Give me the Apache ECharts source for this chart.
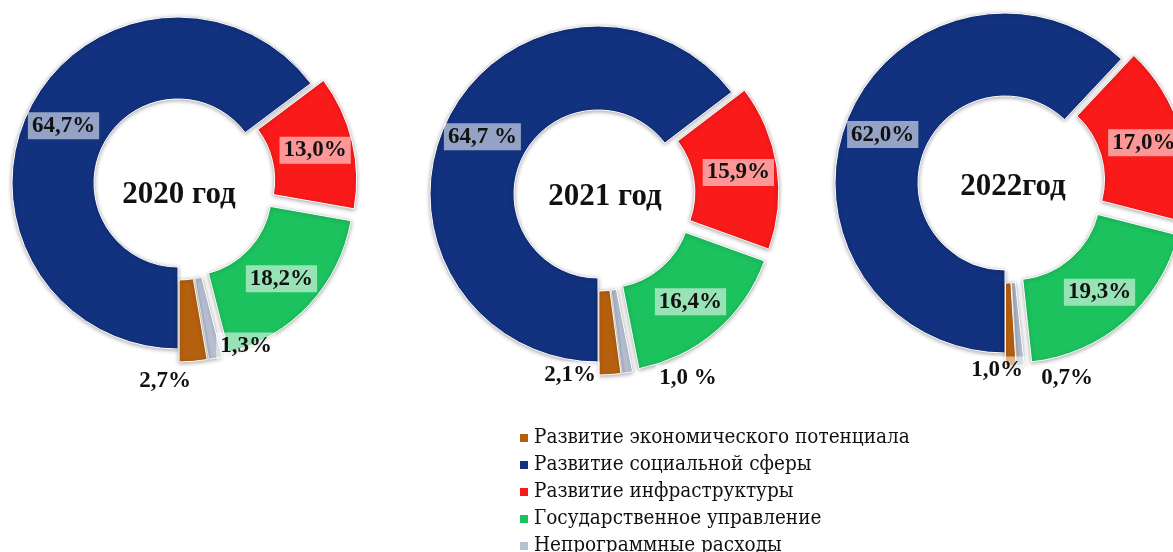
<!DOCTYPE html>
<html>
<head>
<meta charset="utf-8">
<script src="https://cdn.jsdelivr.net/npm/echarts@6/dist/echarts.min.js"></script>
<style>
  html, body { margin: 0; padding: 0; background: #ffffff; }
  #chart { width: 1173px; height: 552px; }
</style>
</head>
<body>
<div id="chart"></div>
<script>
// ---- data ----
const categories = [
  'Развитие экономического потенциала',
  'Развитие социальной сферы',
  'Развитие инфраструктуры',
  'Государственное управление',
  'Непрограммные расходы'
];
const years = ['2020 год', '2021 год', '2022год'];
const values2020 = [2.7, 64.7, 13.0, 18.2, 1.3];
const values2021 = [2.1, 64.7, 15.9, 16.4, 1.0];
const values2022 = [1.0, 62.0, 17.0, 19.3, 0.7];
const labels2020 = ['2,7%', '64,7%', '13,0%', '18,2%', '1,3%'];
const labels2021 = ['2,1%', '64,7 %', '15,9%', '16,4%', '1,0 %'];
const labels2022 = ['1,0%', '62,0%', '17,0%', '19,3%', '0,7%'];

// ---- styling / layout ----
const SERIF = '"Liberation Serif", "Times New Roman", serif';
const LEGEND_FONT = '"DejaVu Serif Condensed", "DejaVu Serif", serif';
const colors = ['#b5600f', '#12317f', '#fa1a1a', '#1cc25e', '#b7c0d3'];
const drawOrder = [1, 2, 3, 4, 0];          // clockwise from 6 o'clock
const exploded = [true, false, true, true, true];
const pies = [
  { values: values2020, labels: labels2020, center: [178, 183], radius: [84, 166],
    titleShift: [-4, 7],
    smallLabelPos: { 0: [-13, 198], 4: [68, 163] } },
  { values: values2021, labels: labels2021, center: [598, 194], radius: [84, 168],
    titleShift: [2, -2],
    smallLabelPos: { 0: [-28, 181], 4: [90, 184] } },
  { values: values2022, labels: labels2022, center: [1005, 183], radius: [87, 170],
    titleShift: [3, -1],
    smallLabelPos: { 0: [-8, 187], 4: [62, 195] } }
];
const LABEL_BG = 'rgba(255,255,255,0.55)';

const series = pies.map(function (p, pi) {
  const items = drawOrder.map(function (i) {
    const small = p.values[i] < 5;
    return {
      name: categories[i],
      value: p.values[i],
      selected: exploded[i],
      itemStyle: { color: colors[i] },
      label: { show: !small, formatter: p.labels[i] }
    };
  });
  return {
    type: 'pie',
    name: years[pi],
    center: p.center,
    radius: p.radius,
    startAngle: 270,
    clockwise: true,
    avoidLabelOverlap: false,
    selectedMode: 'multiple',
    selectedOffset: 13,
    silent: true,
    label: {
      show: true,
      position: 'inside',
      fontFamily: SERIF,
      fontWeight: 'bold',
      fontSize: 23,
      color: '#111',
      backgroundColor: LABEL_BG,
      padding: [3, 4, 1, 4]
    },
    labelLine: { show: false },
    itemStyle: {
      borderColor: '#ffffff',
      borderWidth: 1,
      shadowBlur: 4,
      shadowOffsetY: 1,
      shadowColor: 'rgba(0,0,0,0.35)'
    },
    select: { itemStyle: { borderColor: '#ffffff', borderWidth: 1 } },
    emphasis: { disabled: true },
    data: items
  };
});

// labels of the thin slices, placed below each ring
const smallLabels = [];
pies.forEach(function (p) {
  Object.keys(p.smallLabelPos).forEach(function (k) {
    const pos = p.smallLabelPos[k];
    smallLabels.push({
      type: 'text',
      x: p.center[0] + pos[0],
      y: p.center[1] + pos[1],
      z: 100,
      style: {
        text: p.labels[+k],
        font: 'bold 23px ' + SERIF,
        fill: '#111',
        align: 'center',
        verticalAlign: 'middle',
        backgroundColor: LABEL_BG,
        padding: [3, 4, 1, 4]
      }
    });
  });
});

const chart = echarts.init(document.getElementById('chart'), null, { renderer: 'canvas' });
chart.setOption({
  animation: false,
  backgroundColor: '#ffffff',
  textStyle: { fontFamily: SERIF },
  title: pies.map(function (p, pi) {
    return {
      text: years[pi],
      left: p.center[0] + p.titleShift[0],
      top: p.center[1] + p.titleShift[1],
      textAlign: 'center',
      textVerticalAlign: 'middle',
      textStyle: {
        fontFamily: SERIF,
        fontWeight: 'bold',
        fontSize: 31,
        color: '#111'
      }
    };
  }),
  legend: {
    orient: 'vertical',
    left: 513,
    top: 422,
    height: 200,
    itemWidth: 10,
    itemHeight: 10,
    itemGap: 5,
    icon: 'rect',
    selectedMode: false,
    textStyle: {
      fontFamily: LEGEND_FONT,
      fontSize: 20.5,
      lineHeight: 22,
      color: '#111'
    },
    data: categories.map(function (c, i) {
      return { name: c, itemStyle: { color: colors[i] } };
    })
  },
  graphic: smallLabels,
  series: series
});
</script>
</body>
</html>
